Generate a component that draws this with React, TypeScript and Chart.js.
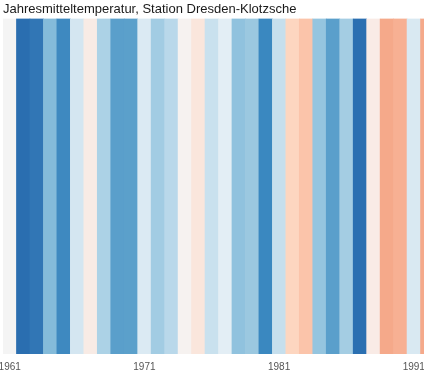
import React, { useEffect, useRef } from "react";
import { Chart, registerables } from "chart.js";

Chart.register(...registerables);

const titleText = "Jahresmitteltemperatur, Station Dresden-Klotzsche";

const years = [
  1961, 1962, 1963, 1964, 1965, 1966, 1967, 1968, 1969, 1970,
  1971, 1972, 1973, 1974, 1975, 1976, 1977, 1978, 1979, 1980,
  1981, 1982, 1983, 1984, 1985, 1986, 1987, 1988, 1989, 1990,
  1991, 1992,
];

// stripe colour per year (warming-stripes palette)
const stripeColors = [
  "#f4f4f4", "#2a6eb0", "#3176b5", "#84bbda", "#3e89c0", "#d4e6f1", "#f8ebe5", "#acd2e6", "#5a9fcb", "#5ba0cb",
  "#dbeaf3", "#a2cce3", "#b9d8ea", "#f6f2f0", "#fae6dc", "#c9e1ee", "#e3eef5", "#90c2de", "#9bc8e0", "#3a88c0",
  "#c6dfed", "#fdd6c0", "#fbc4aa", "#95c5df", "#5a9fcb", "#a4cde3", "#2b6fb1", "#f9ebe6", "#f5a98a", "#f7b093",
  "#d9e9f2", "#f5a98a",
];

const labeledYears = [1961, 1971, 1981, 1991];

export default function App() {
  const ref = useRef<HTMLCanvasElement | null>(null);

  useEffect(() => {
    document.body.style.margin = "0";
    const canvas = ref.current;
    if (!canvas) return;
    const chart = new Chart(canvas, {
      type: "bar",
      data: {
        labels: years.map(String),
        datasets: [
          {
            data: years.map(() => 1),
            backgroundColor: stripeColors,
            borderWidth: 0,
            barPercentage: 1,
            categoryPercentage: 1,
          },
        ],
      },
      options: {
        animation: false,
        responsive: false,
        maintainAspectRatio: false,
        layout: { padding: { left: 3, right: 0, top: 0, bottom: 0 } },
        plugins: {
          legend: { display: false },
          tooltip: { enabled: false },
          title: {
            display: true,
            text: titleText,
            align: "start",
            color: "#1a1a1a",
            font: { family: "'Liberation Sans', Arial, sans-serif", size: 13, weight: "normal" },
            padding: { top: 2, bottom: 1 },
          },
        },
        scales: {
          x: {
            grid: { display: false, drawTicks: false },
            border: { display: false },
            afterFit: (scale: any) => {
              scale.paddingLeft = 0;
              scale.paddingRight = 0;
              scale.height = 21;
            },
            ticks: {
              autoSkip: false,
              maxRotation: 0,
              padding: 7,
              color: "#555555",
              font: { family: "'Liberation Sans', Arial, sans-serif", size: 10 },
              callback: (_v: any, i: number) =>
                labeledYears.includes(years[i]) ? String(years[i]) : "",
            },
          },
          y: { display: false, min: 0, max: 1 },
        },
      },
    });
    return () => chart.destroy();
  }, []);

  return (
    <div style={{ width: 424, height: 375, overflow: "hidden", position: "relative" }}>
      <canvas ref={ref} width={434} height={375} style={{ display: "block" }} />
    </div>
  );
}
